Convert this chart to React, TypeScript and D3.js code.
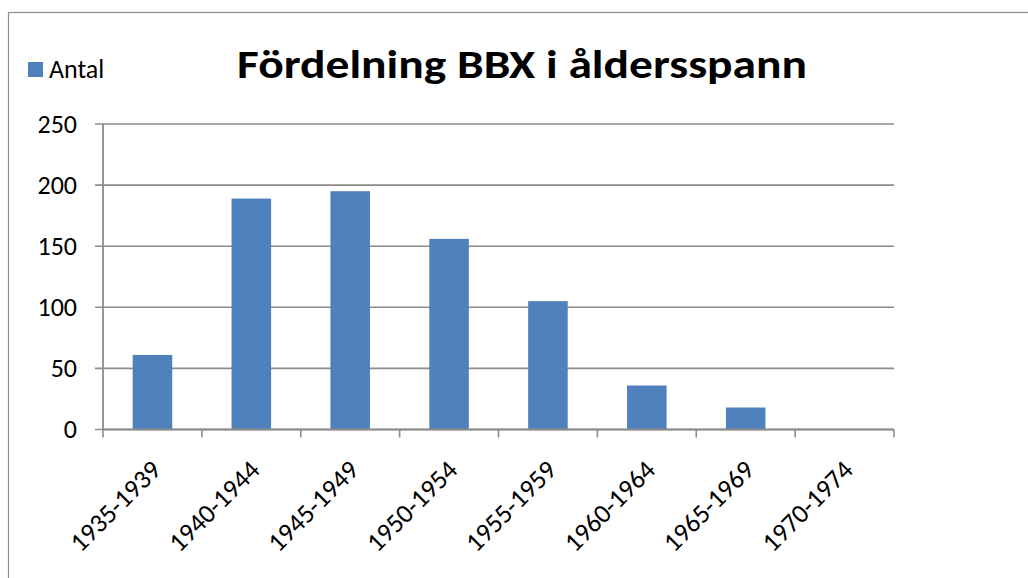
import React from "react";
import * as d3 from "d3";

const categories = ["1935-1939", "1940-1944", "1945-1949", "1950-1954", "1955-1959", "1960-1964", "1965-1969", "1970-1974"];
const antal = [61, 189, 195, 156, 105, 36, 18, 0];
const yTicks = [0, 50, 100, 150, 200, 250];
const title = "Fördelning BBX i åldersspann";
const seriesName = "Antal";

const W = 1028;
const H = 578;
const left = 103;
const right = 894;
const top = 124;
const bottom = 429.5;
const barColor = "#4F81BD";
const gridColor = "#8c8c8c";
const font = "Calibri, Carlito, 'Open Sans', 'Liberation Sans', sans-serif";

export default function App() {
  const x = d3.scaleBand<string>().domain(categories).range([left, right]).paddingInner(0.6).paddingOuter(0.3);
  const y = d3.scaleLinear().domain([0, 250]).range([bottom, top]);
  const step = x.step();
  const boundaries = d3.range(categories.length + 1).map((i) => left + i * step);

  return (
    <svg width={W} height={H} style={{ position: "absolute", left: 0, top: 0, background: "#fff" }} fontFamily={font}>
      <rect x={8.5} y={12.5} width={1030} height={600} fill="#fff" stroke={gridColor} strokeWidth={1.2} />
      {/* gridlines */}
      {yTicks.map((t) => (
        <g key={t}>
          <line x1={left - 8} x2={right} y1={y(t)} y2={y(t)} stroke={gridColor} strokeWidth={1.6} />
          <text x={77} y={y(t) + 8.5} textAnchor="end" fontSize={26} fill="#000">{t}</text>
        </g>
      ))}
      {/* bars */}
      {categories.map((c, i) => (
        <rect key={c} x={x(c)} y={y(antal[i])} width={x.bandwidth()} height={bottom - y(antal[i])} fill={barColor} />
      ))}
      {/* axes */}
      <line x1={left} x2={left} y1={top} y2={bottom} stroke={gridColor} strokeWidth={1.8} />
      <line x1={left} x2={right} y1={bottom} y2={bottom} stroke={gridColor} strokeWidth={1.8} />
      {boundaries.map((b, i) => (
        <line key={i} x1={b} x2={b} y1={bottom} y2={bottom + 8} stroke={gridColor} strokeWidth={1.6} />
      ))}
      {/* x labels */}
      {categories.map((c) => {
        const cx = (x(c) as number) + x.bandwidth() / 2 + 10;
        const cy = bottom + 42;
        return (
          <text key={c} x={cx} y={cy} textAnchor="end" fontSize={26.5} transform={`rotate(-45 ${cx} ${cy})`} fill="#000">
            {c}
          </text>
        );
      })}
      {/* title */}
      <text x={522} y={78} textAnchor="middle" fontSize={40} fontWeight="bold" textLength={570} lengthAdjust="spacingAndGlyphs" fill="#000">
        {title}
      </text>
      {/* legend */}
      <rect x={28} y={62} width={15} height={15} fill={barColor} />
      <text x={49} y={77.5} fontSize={26} fill="#000">{seriesName}</text>
    </svg>
  );
}
